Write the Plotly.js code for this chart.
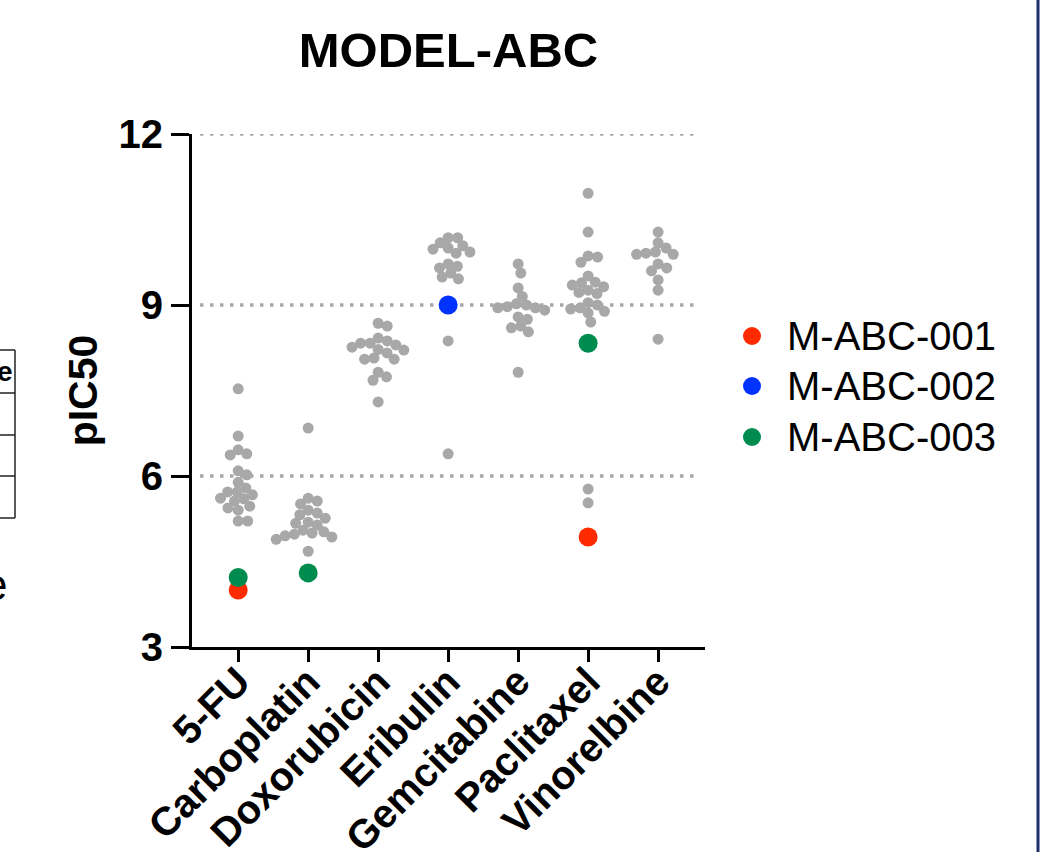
<!DOCTYPE html>
<html>
<head>
<meta charset="utf-8">
<script src="https://cdn.plot.ly/plotly-3.0.1.min.js"></script>
<style>html,body{margin:0;padding:0;background:#fff;}#chart{width:1045px;height:852px;}</style>
</head>
<body>
<div id="chart"></div>
<script>
// ---- data ----
const drugs = ["5-FU","Carboplatin","Doxorubicin","Eribulin","Gemcitabine","Paclitaxel","Vinorelbine"];

const pic50_5FU = [7.53,6.70,6.46,6.39,6.37,6.09,6.02,5.89,5.79,5.72,5.72,5.67,5.61,5.60,5.56,5.47,5.44,5.40,5.21,5.21];
const pic50_Carboplatin = [6.84,5.61,5.56,5.51,5.40,5.35,5.32,5.26,5.19,5.17,5.14,5.05,5.02,5.00,4.98,4.95,4.93,4.89,4.68,4.30];
const pic50_Doxorubicin = [8.68,8.63,8.42,8.37,8.33,8.33,8.30,8.26,8.22,8.21,8.16,8.07,8.05,8.05,7.82,7.74,7.68,7.30];
const pic50_Eribulin = [10.18,10.18,10.09,10.04,10.00,9.98,9.93,9.91,9.72,9.68,9.65,9.56,9.49,9.46,8.98,8.37,6.39];
const pic50_Gemcitabine = [9.72,9.56,9.30,9.15,9.02,9.00,8.97,8.95,8.95,8.91,8.79,8.75,8.63,8.60,8.53,7.82];
const pic50_Paclitaxel = [10.96,10.28,9.86,9.84,9.75,9.51,9.40,9.39,9.35,9.32,9.26,9.22,9.20,9.04,9.00,8.95,8.93,8.89,8.86,8.70,8.33,5.77,5.53];
const pic50_Vinorelbine = [10.28,10.09,10.00,9.93,9.91,9.89,9.89,9.72,9.65,9.60,9.44,9.26,8.40];

const models = ["M-ABC-001","M-ABC-002","M-ABC-003"];
const modelColors = ["#ff2a00","#0033ff","#008c4f"];
const model001 = {drug:["5-FU","Paclitaxel"], value:[4.00,4.93]};
const model002 = {drug:["Eribulin"], value:[9.00]};
const model003 = {drug:["5-FU","Carboplatin","Paclitaxel"], value:[4.22,4.30,8.33]};

const yTicks = [3,6,9,12];
const yGrid = [6,9,12];

// ---- layout geometry ----
const W = 1045, H = 852;
const mL = 192, mR = 340, mT = 134, mB = 205;
const plotW = W - mL - mR, plotH = H - mT - mB;
const xRange = [-0.66, 6.67], yRange = [3, 12];
const pxPerX = plotW / (xRange[1]-xRange[0]);
const pxPerY = plotH / (yRange[1]-yRange[0]);

// beeswarm offsets (computed from values)
function swarm(vals, D){
  const order = vals.map((v,i)=>i).sort((a,b)=>vals[b]-vals[a]);
  const placed = []; const off = new Array(vals.length).fill(0);
  order.forEach(i=>{
    const y = vals[i]*pxPerY;
    const near = placed.filter(p=>Math.abs(p.y-y) < D);
    const cands = [0];
    near.forEach(p=>{const h=Math.sqrt(D*D-(p.y-y)*(p.y-y)); cands.push(p.x+h, p.x-h);});
    cands.sort((a,b)=>Math.abs(a)-Math.abs(b));
    let best = 0;
    for (const c of cands){
      if (near.every(p=>Math.hypot(p.x-c,p.y-y) >= D-0.01)){best=c;break;}
    }
    off[i]=best; placed.push({x:best,y:y});
  });
  return off.map(o=>o/pxPerX);
}

const allSets = [pic50_5FU,pic50_Carboplatin,pic50_Doxorubicin,pic50_Eribulin,pic50_Gemcitabine,pic50_Paclitaxel,pic50_Vinorelbine];
const gx=[], gy=[];
allSets.forEach((vals,ci)=>{
  const o = swarm(vals, 9.5);
  vals.forEach((v,k)=>{gx.push(ci+o[k]); gy.push(v);});
});

const traces = [{
  type:"scatter", mode:"markers", x:gx, y:gy, showlegend:false, hoverinfo:"y",
  marker:{color:"#a8a8a8", size:11}, cliponaxis:false
}];
[model001, model002, model003].forEach((m,i)=>{
  traces.push({
    type:"scatter", mode:"markers", name:models[i], showlegend:false,
    x:m.drug.map(d=>drugs.indexOf(d)), y:m.value,
    marker:{color:modelColors[i], size:19}, cliponaxis:false
  });
});

const F = "Arial, 'Liberation Sans', sans-serif";
const px2pxX = p => (p - mL)/plotW;
const px2pxY = p => (H - mB - p)/plotH;

const shapes = [];
yGrid.forEach(g=>shapes.push({type:"line", xref:"paper", yref:"y", x0:px2pxX(200), x1:px2pxX(700), y0:g, y1:g, layer:"below", line:{color:"#a8a8a8", width:3.5, dash:"3.5px,6.5px"}}));
shapes.push({type:"line", xref:"paper", yref:"paper", x0:px2pxX(1038), x1:px2pxX(1038), y0:px2pxY(0), y1:px2pxY(852), line:{color:"#1f2f6e", width:3}});
[350,393,435,476,518].forEach(yy=>shapes.push({type:"line", xref:"paper", yref:"paper", x0:px2pxX(-5), x1:px2pxX(15), y0:px2pxY(yy), y1:px2pxY(yy), line:{color:"#222", width:1.5}}));
shapes.push({type:"line", xref:"paper", yref:"paper", x0:px2pxX(15), x1:px2pxX(15), y0:px2pxY(350), y1:px2pxY(518), line:{color:"#222", width:1.5}});

// manual legend
const legendRows = [336, 386, 437];
const annotations = [
  {xref:"paper", yref:"paper", x:px2pxX(15), y:px2pxY(371), xanchor:"right", yanchor:"middle", showarrow:false, text:"<b>e</b>", font:{size:28, family:F, color:"#000"}},
  {xref:"paper", yref:"paper", x:px2pxX(9), y:px2pxY(584), xanchor:"right", yanchor:"middle", showarrow:false, text:"e", font:{size:44, family:F, color:"#000"}}
];
models.forEach((m,i)=>{
  const cy = legendRows[i];
  shapes.push({type:"circle", xref:"paper", yref:"paper", x0:px2pxX(743), x1:px2pxX(761), y0:px2pxY(cy-9), y1:px2pxY(cy+9), fillcolor:modelColors[i], line:{width:0}});
  annotations.push({xref:"paper", yref:"paper", x:px2pxX(785), y:px2pxY(cy), xanchor:"left", yanchor:"middle", showarrow:false, text:m, font:{size:40, family:F, color:"#000"}});
});

const layout = {
  width:W, height:H,
  margin:{l:mL, r:mR, t:mT, b:mB},
  paper_bgcolor:"#fff", plot_bgcolor:"#fff",
  font:{family:F, color:"#000"},
  showlegend:false,
  title:{text:"<b>MODEL-ABC</b>", font:{size:49, family:F, color:"#000"}, xref:"paper", x:0.5, xanchor:"center", yref:"container", y:1-50/H, yanchor:"middle"},
  xaxis:{
    range:xRange, tickmode:"array", tickvals:drugs.map((d,i)=>i), ticktext:drugs.map(d=>"<b>"+d+"</b>"),
    tickangle:-45, tickfont:{size:40, family:F, color:"#000"}, ticklabelstandoff:-20,
    showline:true, linecolor:"#000", linewidth:3, ticks:"outside", ticklen:12, tickwidth:3, tickcolor:"#000",
    showgrid:false, zeroline:false, fixedrange:true
  },
  yaxis:{
    range:yRange, tickmode:"array", tickvals:yTicks, ticktext:yTicks.map(t=>"<b>"+t+"</b>"),
    tickfont:{size:40, family:F, color:"#000"},
    showline:true, linecolor:"#000", linewidth:3, ticks:"outside", ticklen:18, tickwidth:3, tickcolor:"#000",
    showgrid:false, zeroline:false,
    title:{text:"<b>pIC50</b>", font:{size:41, family:F, color:"#000"}, standoff:9}
  },
  shapes:shapes,
  annotations:annotations
};

Plotly.newPlot("chart", traces, layout, {displayModeBar:false, staticPlot:true});
</script>
</body>
</html>
